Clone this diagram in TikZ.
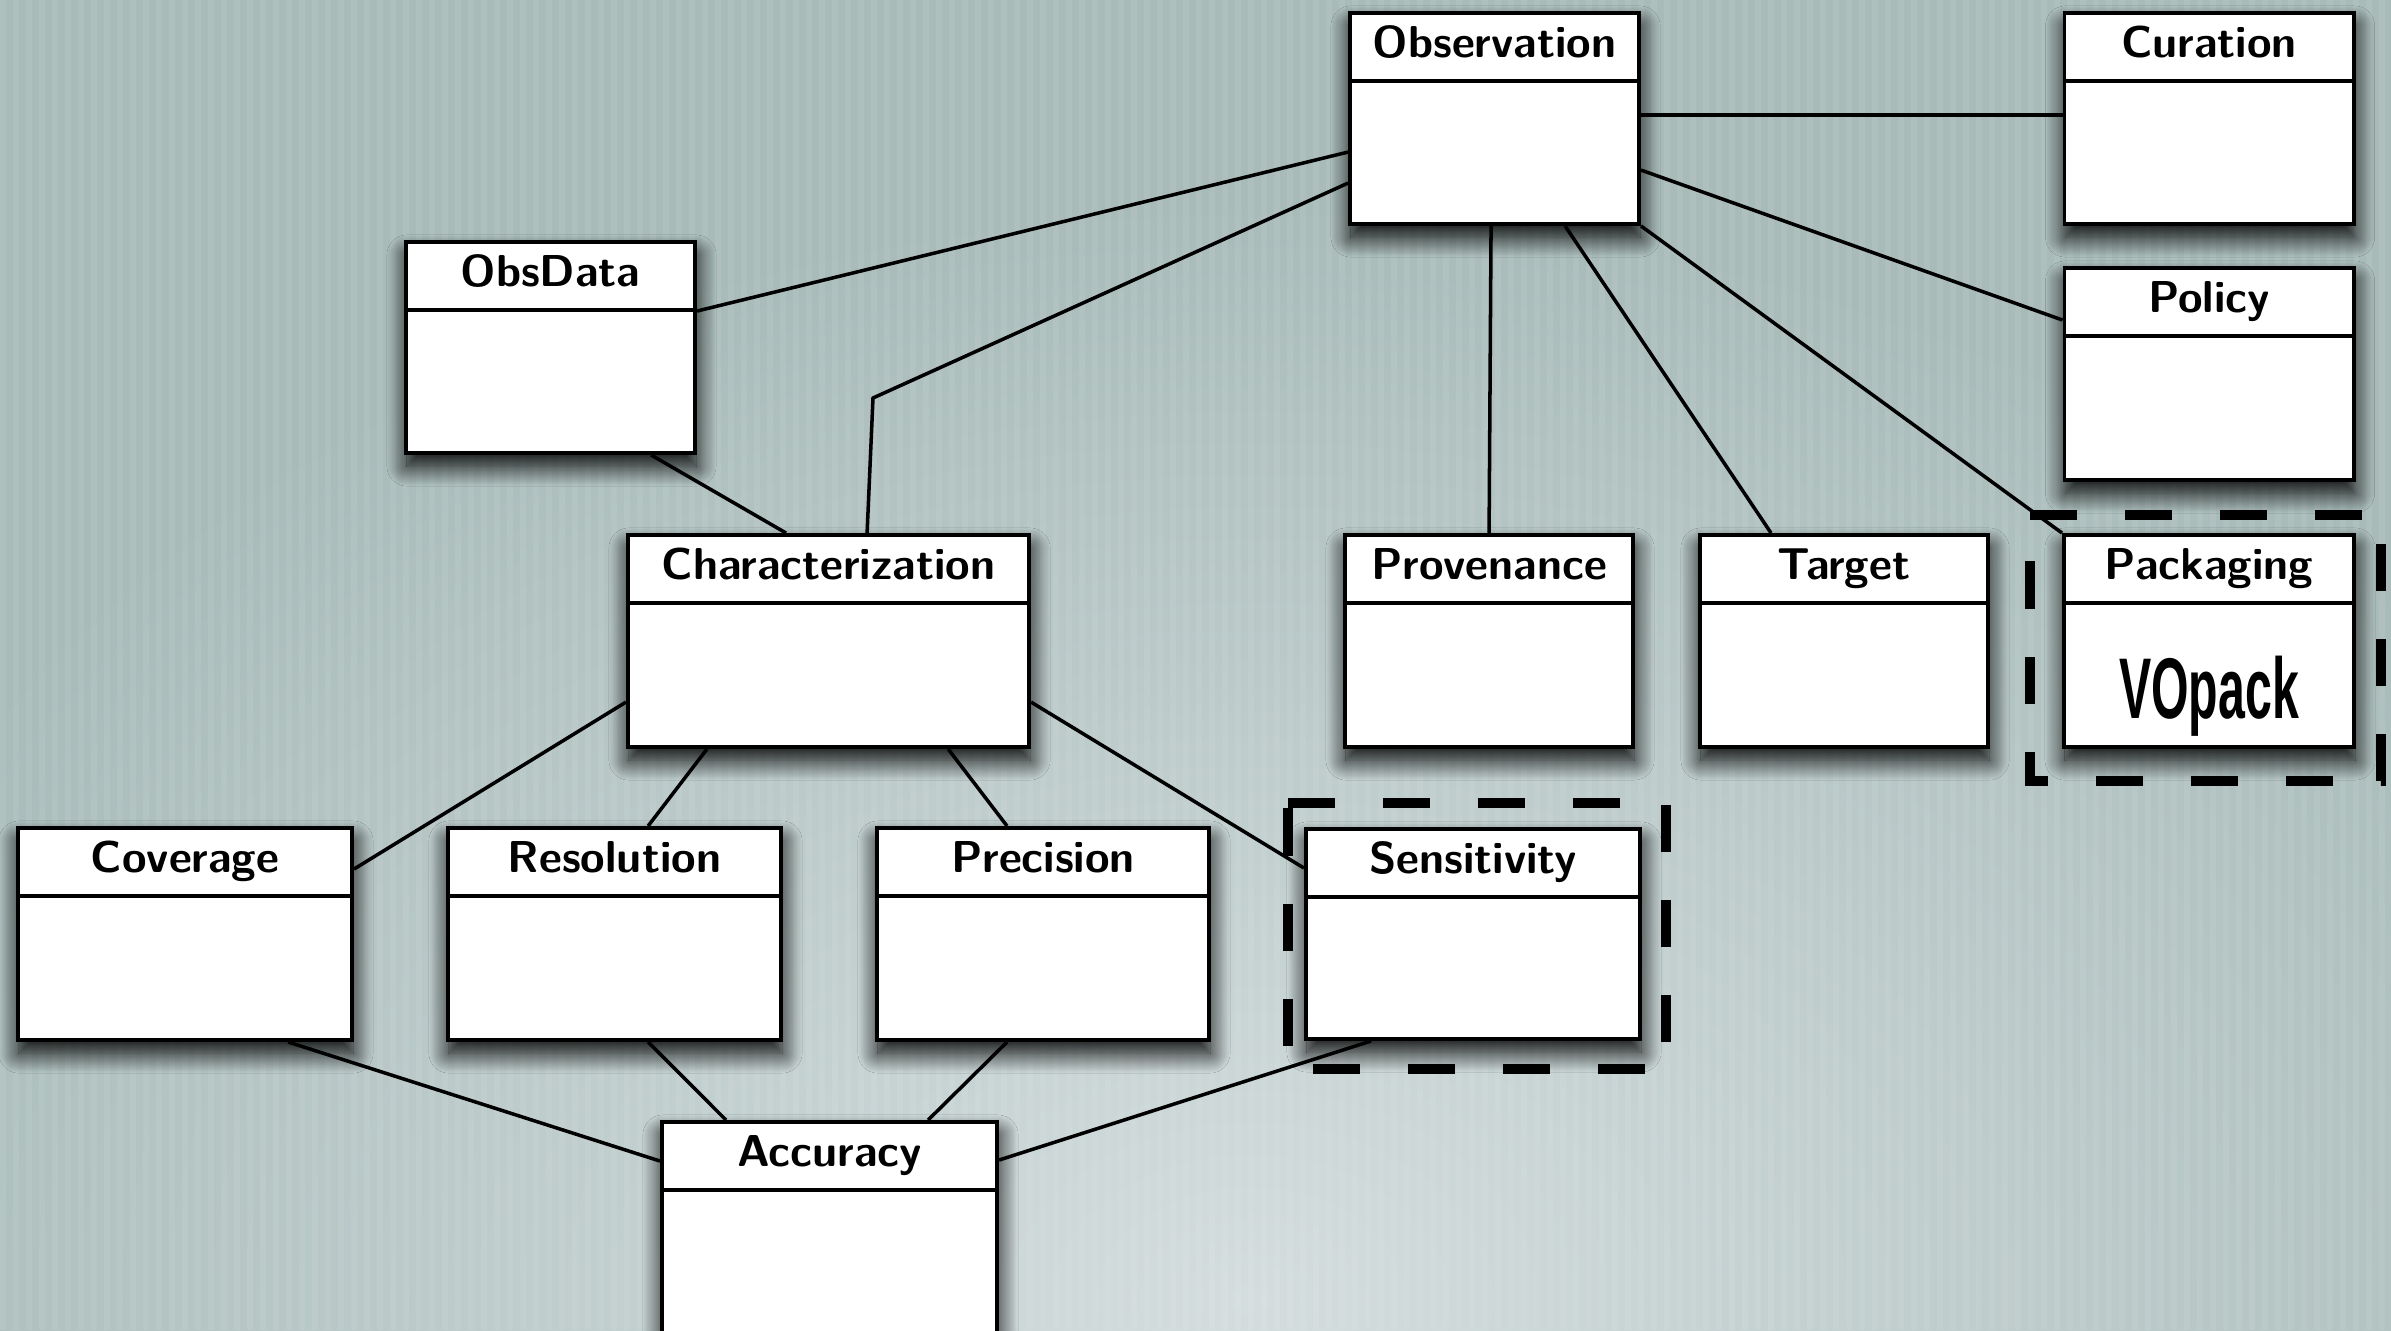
\documentclass[tikz,border=0pt]{standalone}
\usepackage{fontspec}
\usepackage{graphicx}
\newfontfamily\vofont{Liberation Sans}
\usetikzlibrary{shadows.blur,calc}
\definecolor{bgbase}{HTML}{A8BBB9}
\definecolor{bglight}{HTML}{D4DDDE}
\tikzset{
  umlbox/.style={draw=black, line width=1.1pt, fill=white, rectangle, inner sep=0pt,
    blur shadow={shadow xshift=0.01cm, shadow yshift=-0.13cm, shadow blur radius=0.20cm, shadow blur steps=24, shadow opacity=100}},
  umltitle/.style={anchor=base, inner sep=0pt, font=\fontsize{12.7}{15}\selectfont\sffamily\bfseries},
  conn/.style={line width=1pt},
  dashframe/.style={line width=0.1cm, dash pattern=on 0.47cm off 0.48cm}
}
\newcommand\umlclass[6]{%
  \node[umlbox, minimum width=#4, minimum height=#5] (#1) at (#2,#3) {};
  \draw[line width=1.1pt] ([yshift=-0.70cm]#1.north west) -- ([yshift=-0.70cm]#1.north east);
  \node[umltitle] (#1-t) at ([yshift=-0.46cm]#1.north) {#6};
}
\begin{document}
\begin{tikzpicture}[x=0.01cm, y=-0.01cm]
\useasboundingbox (0,0) rectangle (2391,1330);
% background
\fill[bgbase] (0,0) rectangle (2391,1330);
\begin{scope}
  \clip (0,0) rectangle (2391,1330);
  \shade[inner color=bglight, outer color=bgbase] (1250,1300) ellipse (1500 and 1100);
  \foreach \i in {0,...,184} \fill[white, opacity=0.07] (\i*13,0) rectangle ++(6,1330);
\end{scope}

% boxes
\umlclass{obs}{1494.5}{118.5}{2.89cm}{2.11cm}{Observation}
\umlclass{cur}{2209}{118.5}{2.89cm}{2.11cm}{Curation}
\umlclass{obsd}{550.5}{347.5}{2.89cm}{2.11cm}{ObsData}
\umlclass{pol}{2209}{374}{2.89cm}{2.12cm}{Policy}
\umlclass{char}{828.5}{641}{4.01cm}{2.12cm}{Characterization}
\umlclass{prov}{1489}{641}{2.88cm}{2.12cm}{Provenance}
\umlclass{targ}{1844}{641}{2.88cm}{2.12cm}{Target}
\umlclass{pack}{2209}{641}{2.90cm}{2.12cm}{Packaging}
\umlclass{cov}{185}{934}{3.34cm}{2.12cm}{Coverage}
\umlclass{res}{614.5}{934}{3.33cm}{2.12cm}{Resolution}
\umlclass{prec}{1043}{934}{3.32cm}{2.12cm}{Precision}
\umlclass{sens}{1473}{934}{3.34cm}{2.10cm}{Sensitivity}
\umlclass{acc}{829.5}{1227.5}{3.35cm}{2.11cm}{Accuracy}

\node[anchor=base, inner sep=0pt, font=\vofont\bfseries\fontsize{24.5}{28}\selectfont] (packv)
  at ([yshift=0.30cm]pack.south) {\scalebox{0.56}[1]{VOpack}};

% dashed frames (clockwise from top left)
\coordinate (pkA) at ([shift={(-0.32cm,0.18cm)}]pack.north west);
\coordinate (pkC) at ([shift={(0.25cm,-0.32cm)}]pack.south east);
\draw[dashframe] (pkA) -- (pkA -| pkC) -- (pkC) -- (pkC -| pkA) -- cycle;
\coordinate (snA) at ([shift={(-0.16cm,0.24cm)}]sens.north west);
\coordinate (snC) at ([shift={(0.24cm,-0.28cm)}]sens.south east);
\draw[dashframe] (snA) -- (snA -| snC) -- (snC) -- (snC -| snA) -- cycle;

% connectors
\coordinate (bend) at (873,398);
\draw[conn] ([yshift=-0.71cm]obsd.north east) -- ([yshift=-1.41cm]obs.north west);
\draw[conn] ([yshift=-1.72cm]obs.north west) -- (bend) -- ([xshift=2.41cm]char.north west);
\draw[conn] ([xshift=2.47cm]obsd.south west) -- ([xshift=1.60cm]char.north west);
\draw[conn] ([yshift=-1.04cm]obs.north east) -- ([yshift=-1.04cm]cur.north west);
\draw[conn] ([yshift=-1.59cm]obs.north east) -- ([yshift=-0.54cm]pol.north west);
\draw[conn] ([xshift=1.43cm]obs.south west) -- ([xshift=1.46cm]prov.north west);
\draw[conn] ([xshift=2.17cm]obs.south west) -- ([xshift=0.73cm]targ.north west);
\draw[conn] (obs.south east) -- (pack.north west);
\draw[conn] ([yshift=-1.69cm]char.north west) -- ([yshift=-0.43cm]cov.north east);
\draw[conn] ([xshift=0.81cm]char.south west) -- ([xshift=2.02cm]res.north west);
\draw[conn] ([xshift=3.22cm]char.south west) -- ([xshift=1.32cm]prec.north west);
\draw[conn] ([yshift=-1.69cm]char.north east) -- ([yshift=-0.41cm]sens.north west);
\draw[conn] ([xshift=2.72cm]cov.south west) -- ([yshift=-0.41cm]acc.north west);
\draw[conn] ([xshift=2.02cm]res.south west) -- ([xshift=0.66cm]acc.north west);
\draw[conn] ([xshift=1.32cm]prec.south west) -- ([xshift=2.68cm]acc.north west);
\draw[conn] ([xshift=0.67cm]sens.south west) -- ([yshift=-0.40cm]acc.north east);
\end{tikzpicture}
\end{document}
